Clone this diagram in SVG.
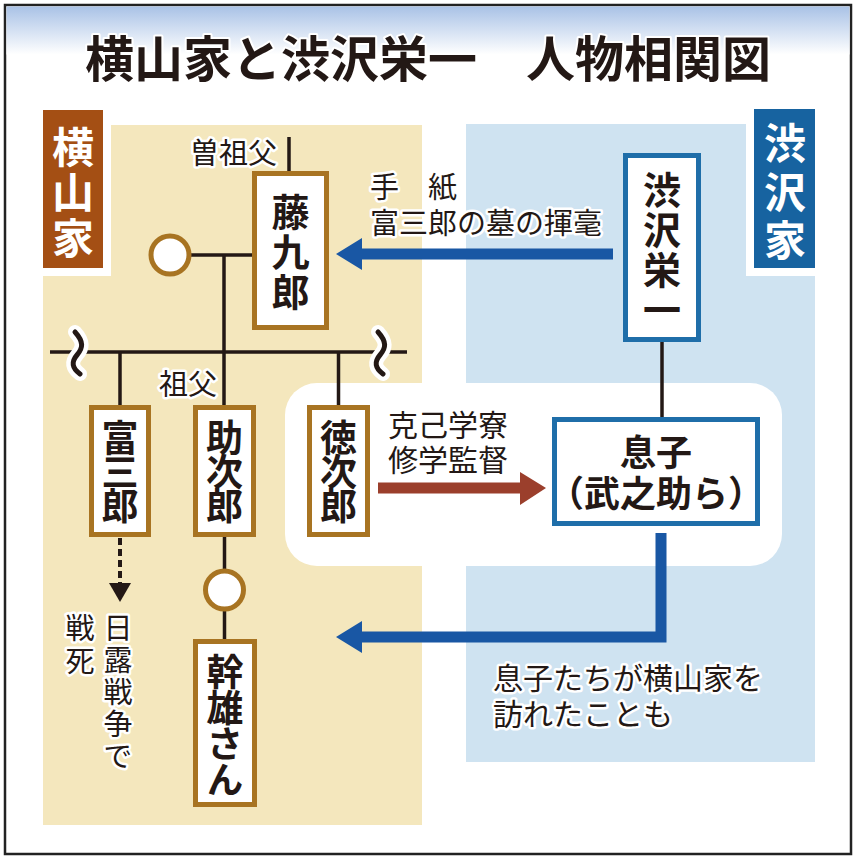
<svg xmlns="http://www.w3.org/2000/svg" width="857" height="860" viewBox="0 0 857 860">
  <defs>
    <linearGradient id="titleGrad" x1="0" y1="0" x2="0" y2="1">
      <stop offset="0" stop-color="#a9c2e6"/>
      <stop offset="1" stop-color="#ffffff"/>
    </linearGradient>
  </defs>
  <style>
    text { font-family: "Noto Sans CJK JP", "Noto Sans", sans-serif; fill: #231815; }
    .title { font-size: 49px; font-weight: 700; text-anchor: middle; paint-order: stroke; stroke: #ffffff; stroke-width: 4px; stroke-linejoin: round; }
    .v { writing-mode: vertical-rl; text-anchor: middle; }
    .node { font-size: 37px; font-weight: 700; }
    .label { font-size: 29px; font-weight: 400; paint-order: stroke; stroke: #ffffff; stroke-width: 5px; stroke-linejoin: round; }
    .fam { font-size: 42px; font-weight: 700; fill: #ffffff; }
    .ybox { fill: #ffffff; stroke: #a87422; stroke-width: 5; }
    .bbox { fill: #ffffff; stroke: #1f6ea9; stroke-width: 5; }
    .line { stroke: #231815; stroke-width: 3.5; fill: none; }
    .spouse { fill: #ffffff; stroke: #a87422; stroke-width: 5; }
  </style>

  <!-- frame and title -->
  <rect x="5" y="5" width="846" height="849" fill="#ffffff" stroke="#222222" stroke-width="2.5"/>
  <rect x="6.5" y="6.5" width="843" height="48" fill="url(#titleGrad)"/>
  <text class="title" x="428" y="77">横山家と渋沢栄一　人物相関図</text>

  <!-- panels -->
  <rect x="43" y="125" width="379" height="700" fill="#f4e7bd"/>
  <rect x="466" y="124" width="349" height="638" fill="#cfe3f1"/>
  <rect x="285" y="383" width="497" height="183" rx="32" fill="#ffffff"/>

  <!-- family labels -->
  <g id="label-yokoyama">
    <rect x="43" y="110" width="68" height="166" fill="#ffffff"/>
    <rect x="43" y="110" width="60" height="158" fill="#a44f14"/>
    <text class="fam v" x="73" y="194" style="letter-spacing:3.5px">横山家</text>
  </g>
  <g id="label-shibusawa">
    <rect x="746" y="109" width="69" height="167" fill="#ffffff"/>
    <rect x="754" y="109" width="61" height="159" fill="#1763a0"/>
    <text class="fam v" x="785" y="195" style="letter-spacing:6.5px">渋沢家</text>
  </g>

  <!-- connectors -->
  <g id="connectors">
    <line class="line" x1="289" y1="137" x2="289" y2="172"/>
    <line class="line" x1="190" y1="255" x2="253" y2="255"/>
    <line class="line" x1="224" y1="255" x2="224" y2="406"/>
    <line class="line" x1="50" y1="352" x2="407" y2="352"/>
    <line class="line" x1="120" y1="352" x2="120" y2="406"/>
    <line class="line" x1="338.5" y1="352" x2="338.5" y2="406"/>
    <path d="M75,332 C84,342 83,348 77,355 C71,362 72,368 80,374" fill="none" stroke="#ffffff" stroke-width="14" stroke-linecap="round"/>
    <path d="M75,332 C84,342 83,348 77,355 C71,362 72,368 80,374" fill="none" stroke="#231815" stroke-width="5" stroke-linecap="round"/>
    <path d="M378,332 C387,342 386,348 380,355 C374,362 375,368 383,374" fill="none" stroke="#ffffff" stroke-width="14" stroke-linecap="round"/>
    <path d="M378,332 C387,342 386,348 380,355 C374,362 375,368 383,374" fill="none" stroke="#231815" stroke-width="5" stroke-linecap="round"/>
    <line class="line" x1="224.5" y1="536" x2="224.5" y2="640"/>
    <line x1="120" y1="538" x2="120" y2="586" stroke="#231815" stroke-width="4" stroke-dasharray="7 4"/>
    <polygon points="109,583 131,583 120,602" fill="#231815"/>
    <line class="line" x1="662" y1="341" x2="662" y2="418"/>
    <!-- letter arrow -->
    <line x1="613" y1="254" x2="358" y2="254" stroke="#1957a4" stroke-width="11"/>
    <polygon points="336,254 362,238 362,270" fill="#1957a4"/>
    <!-- Kokigakuryo arrow -->
    <line x1="378" y1="488" x2="523" y2="488" stroke="#9b3f2c" stroke-width="11"/>
    <polygon points="546,488 520,472 520,505" fill="#9b3f2c"/>
    <!-- visit arrow -->
    <path d="M661,533 V637 H358" fill="none" stroke="#1957a4" stroke-width="11" stroke-linejoin="miter"/>
    <polygon points="336,637 362,621 362,653" fill="#1957a4"/>
  </g>

  <!-- spouses -->
  <g id="spouse-tokuro">
    <circle class="spouse" cx="170" cy="255" r="19"/>
  </g>
  <g id="spouse-sukejiro">
    <circle class="spouse" cx="224.5" cy="590" r="19"/>
  </g>

  <!-- nodes -->
  <g id="node-tokuro">
    <rect class="ybox" x="254.5" y="173.5" width="72" height="154"/>
    <text class="node v" x="290.5" y="253" style="font-size:38px;letter-spacing:2px">藤九郎</text>
  </g>
  <g id="node-tomisaburo">
    <rect class="ybox" x="91.5" y="407.5" width="57" height="127"/>
    <text class="node v" x="120" y="470.5" style="letter-spacing:-3px">富三郎</text>
  </g>
  <g id="node-sukejiro">
    <rect class="ybox" x="195.5" y="407.5" width="58" height="127"/>
    <text class="node v" x="224.5" y="470.5" style="letter-spacing:-3px">助次郎</text>
  </g>
  <g id="node-tokujiro">
    <rect class="ybox" x="309.5" y="407.5" width="58" height="127"/>
    <text class="node v" x="338.5" y="470.5" style="letter-spacing:-3px">徳次郎</text>
  </g>
  <g id="node-mikio">
    <rect class="ybox" x="195.5" y="641.5" width="59" height="163"/>
    <text class="node v" x="225" y="725.5" style="letter-spacing:-1px">幹雄さん</text>
  </g>
  <g id="node-eiichi">
    <rect class="bbox" x="625.5" y="155.5" width="73" height="184"/>
    <text class="node v" x="662" y="251" style="font-size:38px;letter-spacing:2px">渋沢栄一</text>
  </g>
  <g id="node-sons">
    <rect class="bbox" x="554.5" y="419.5" width="203" height="104"/>
    <text class="node" style="font-size:36px;text-anchor:middle"><tspan x="656" y="466">息子</tspan><tspan x="656" y="507">（武之助ら）</tspan></text>
  </g>

  <!-- annotation labels -->
  <g id="labels">
    <text class="label" x="190" y="164">曽祖父</text>
    <text class="label" x="188" y="395" style="text-anchor:middle">祖父</text>
    <text class="label"><tspan x="370" y="198">手　紙</tspan><tspan x="370" y="234">富三郎の墓の揮毫</tspan></text>
    <text class="label" style="font-size:30px"><tspan x="388" y="436">克己学寮</tspan><tspan x="388" y="471">修学監督</tspan></text>
    <text class="label" style="font-size:30px"><tspan x="493" y="689">息子たちが横山家を</tspan><tspan x="493" y="725">訪れたことも</tspan></text>
    <text class="label v" x="118" y="693.5" style="letter-spacing:3px">日露戦争で</text>
    <text class="label v" x="80" y="646.5" style="letter-spacing:4px">戦死</text>
  </g>
</svg>
